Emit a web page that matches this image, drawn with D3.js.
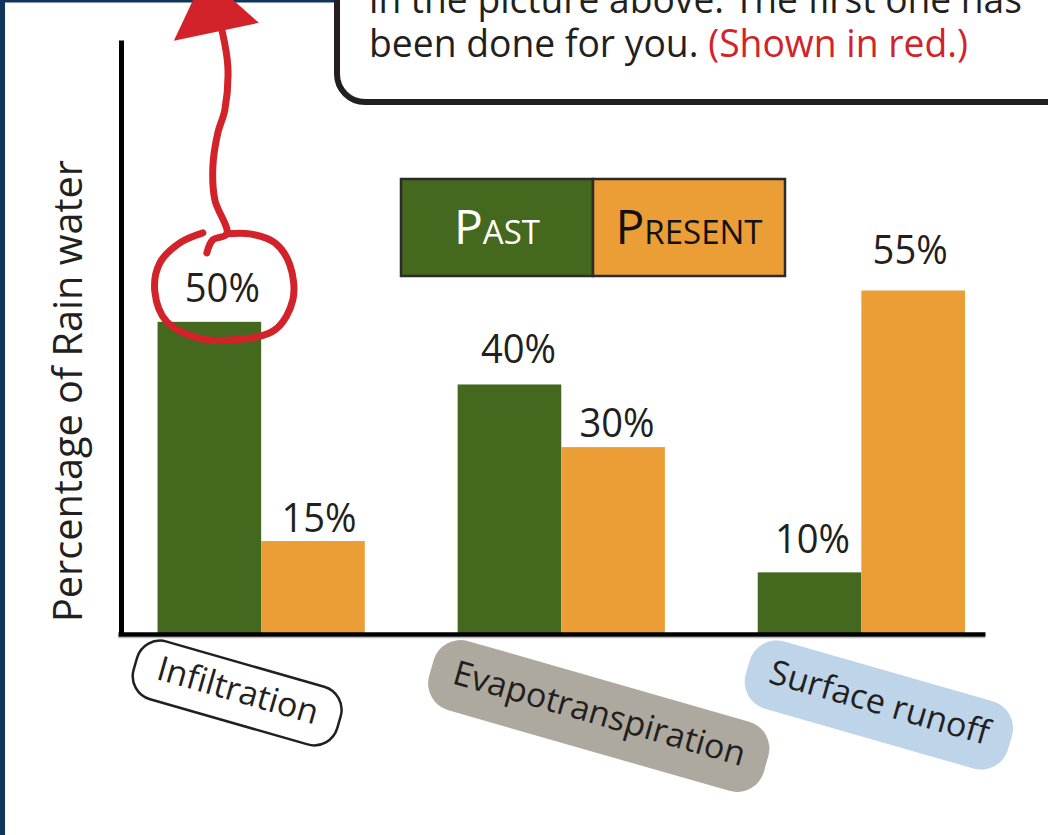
<!DOCTYPE html>
<html><head><meta charset="utf-8">
<script src="https://cdn.jsdelivr.net/npm/d3@7"></script>
<style>
html,body{margin:0;padding:0;background:#fff;}
svg{display:block;font-family:"Open Sans",sans-serif;}
</style></head><body>
<svg id="chart" width="1048" height="835"></svg>
<script>
// ---- data ----
const categories = ["Infiltration", "Evapotranspiration", "Surface runoff"];
const seriesNames = ["Past", "Present"];
const pastValues = [50, 40, 10];
const presentValues = [15, 30, 55];
const yAxisTitle = "Percentage of Rain water";
const noteLine1 = "in the picture above. The first one has";
const noteLine2a = "been done for you. ";
const noteLine2b = "(Shown in red.)";

// ---- layout / style (not data) ----
const colors = { Past: "#45681f", Present: "#eb9d36" };
const pillStyles = [
  { fill: "#ffffff", stroke: "#231f20", sw: 2.5, h: 60, rx: 24, dx: -24, y: 693 },
  { fill: "#aea99e", stroke: "none", sw: 0, h: 72, rx: 28, dx: 37.5, y: 716 },
  { fill: "#bed4e8", stroke: "none", sw: 0, h: 70, rx: 28, dx: 17.5, y: 705 }
];
const labelLift = [[20, 9], [21, 10], [19, 27]];
const labelShift = [[13, 6], [9, 4], [3, -3]];
const ink = "#231f20";
const red = "#d2232a";

const svg = d3.select("#chart");

// frame
svg.append("rect").attr("x", 0).attr("y", 0).attr("width", 5).attr("height", 835).attr("fill", "#0f355a");
svg.append("rect").attr("x", 0).attr("y", 0).attr("width", 345).attr("height", 2.5).attr("fill", "#0f355a");

// note box
svg.append("rect").attr("x", 337).attr("y", -80).attr("width", 800).attr("height", 182)
  .attr("rx", 28).attr("fill", "#fff").attr("stroke", ink).attr("stroke-width", 6);
const n1 = svg.append("text").attr("x", 369).attr("y", 13).attr("font-size", 39).attr("fill", ink).text(noteLine1);
n1.attr("textLength", 653).attr("lengthAdjust", "spacingAndGlyphs");
const n2 = svg.append("text").attr("x", 369).attr("y", 57).attr("font-size", 39).attr("fill", ink)
  .attr("textLength", 599).attr("lengthAdjust", "spacingAndGlyphs");
n2.append("tspan").text(noteLine2a);
n2.append("tspan").attr("fill", red).text(noteLine2b);

// scales
const x = d3.scaleBand().domain(categories).range([118, 985])
  .paddingInner(0.3094).paddingOuter(0.0992).align(0.664);
const xs = d3.scaleBand().domain(seriesNames).range([0, x.bandwidth()]);
const y = d3.scaleLinear().domain([0, 95]).range([635, 40]);

const rows = categories.map((c, i) => ({ cat: c, i, vals: [pastValues[i], presentValues[i]] }));

// bars
const groups = svg.append("g").selectAll("g").data(rows).join("g")
  .attr("transform", d => `translate(${x(d.cat)},0)`);
groups.selectAll("rect").data(d => d.vals.map((v, j) => ({ v, j, s: seriesNames[j] }))).join("rect")
  .attr("x", d => xs(d.s)).attr("width", xs.bandwidth())
  .attr("y", d => y(d.v)).attr("height", d => y(0) - y(d.v))
  .attr("fill", d => colors[d.s]);

// value labels
rows.forEach(r => {
  r.vals.forEach((v, j) => {
    const t = svg.append("text")
      .attr("x", x(r.cat) + xs(seriesNames[j]) + xs.bandwidth() / 2 + labelShift[r.i][j])
      .attr("y", y(v) - labelLift[r.i][j])
      .attr("text-anchor", "middle").attr("font-size", 41).attr("fill", ink)
      .text(v + "%");
    const L = t.node().getComputedTextLength();
    t.attr("textLength", L * 0.93).attr("lengthAdjust", "spacingAndGlyphs");
  });
});

// axes
const gy = svg.append("g").attr("transform", "translate(121,0)")
  .call(d3.axisLeft(y).tickValues([]).tickSizeOuter(0));
gy.select(".domain").attr("stroke", "#000").attr("stroke-width", 5);
svg.append("line").attr("x1", 118).attr("x2", 985).attr("y1", 637.5).attr("y2", 637.5)
  .attr("stroke", "#bdbdbd").attr("stroke-width", 1.5);
const gx = svg.append("g").attr("transform", "translate(0,634)")
  .call(d3.axisBottom(x).tickValues([]).tickSizeOuter(0));
gx.select(".domain").attr("stroke", "#000").attr("stroke-width", 4.5);

// y title
const yt = svg.append("text").attr("transform", "translate(82,391) rotate(-90)")
  .attr("text-anchor", "middle").attr("font-size", 41).attr("fill", ink).text(yAxisTitle);
yt.attr("textLength", 462).attr("lengthAdjust", "spacingAndGlyphs");

// category pills
rows.forEach(r => {
  const st = pillStyles[r.i];
  const cx = x(r.cat) + x.bandwidth() / 2 + st.dx;
  const g = svg.append("g").attr("transform", `translate(${cx},${st.y}) rotate(16)`);
  const rect = g.append("rect");
  const t = g.append("text").attr("x", 0).attr("y", -3).attr("dy", "0.35em")
    .attr("text-anchor", "middle").attr("font-size", 34).attr("fill", ink).text(r.cat);
  const L = t.node().getComputedTextLength();
  const W = L + 46;
  rect.attr("x", -W / 2).attr("y", -st.h / 2).attr("width", W).attr("height", st.h)
    .attr("rx", st.rx).attr("fill", st.fill).attr("stroke", st.stroke).attr("stroke-width", st.sw);
});

// legend
const legX = 401, legY = 179, legW = 192, legH = 97;
seriesNames.forEach((s, j) => {
  svg.append("rect").attr("x", legX + j * legW).attr("y", legY).attr("width", legW).attr("height", legH)
    .attr("fill", colors[s]).attr("stroke", "#2b2b2b").attr("stroke-width", 2.5);
  const t = svg.append("text").attr("x", legX + j * legW + legW / 2).attr("y", legY + 65)
    .attr("text-anchor", "middle").attr("fill", j === 0 ? "#fff" : "#111");
  t.append("tspan").attr("font-size", 48).text(s[0].toUpperCase());
  t.append("tspan").attr("font-size", 33).text(s.slice(1).toUpperCase());
});

// red annotation anchored on the first value label
const lx = x(categories[0]) + xs(seriesNames[0]) + xs.bandwidth() / 2 + labelShift[0][0];
const ly = y(pastValues[0]) - labelLift[0][0];
const P = pts => pts.map(p => [lx + p[0], ly + p[1]]);
const curve = d3.line().curve(d3.curveCatmullRom.alpha(0.5));
const loop = P([[4.5,-68],[27.5,-68],[52.5,-59],[67.5,-37],[70.5,-2],[52.5,28],[12.5,38],[-24.5,36],[-55.5,20],[-67.5,-10],[-62.5,-39],[-42.5,-59],[-19.5,-69]]);
const shaft = P([[-15.5,-49],[-9.5,-62],[4.5,-68],[-7.5,-102],[-9.5,-135],[-4.5,-169],[2.5,-192],[5.5,-235],[-0.5,-272]]);
svg.append("path").attr("d", curve(loop)).attr("fill", "none").attr("stroke", red)
  .attr("stroke-width", 7).attr("stroke-linecap", "round");
svg.append("path").attr("d", curve(shaft)).attr("fill", "none").attr("stroke", red)
  .attr("stroke-width", 7).attr("stroke-linecap", "round").attr("stroke-linejoin", "round");
svg.append("path").attr("d", d3.line()(P([[-48.5,-261],[36.5,-279],[-17.5,-327]])) + "Z").attr("fill", red);
</script>
</body></html>
